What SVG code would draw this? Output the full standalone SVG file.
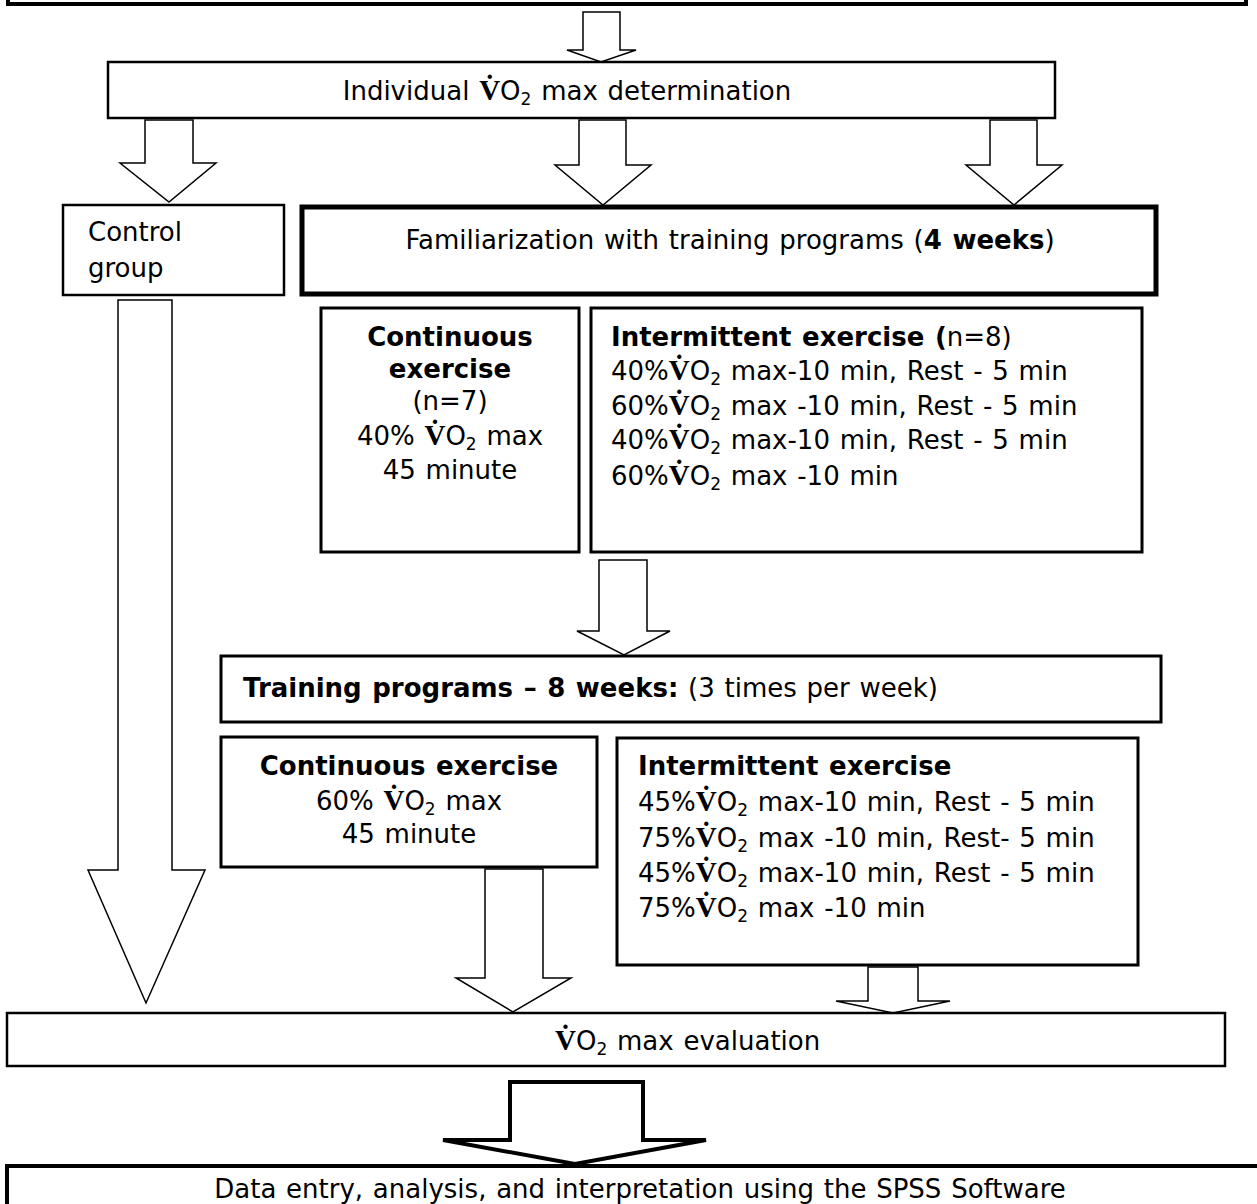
<svg xmlns="http://www.w3.org/2000/svg" width="1257" height="1204" viewBox="0 0 1257 1204">
<defs>
<style>
.box{fill:#fff;stroke:#000;stroke-width:2.5}
.thick{stroke-width:5}
.mid{stroke-width:3}
.arr{fill:#fff;stroke:#000;stroke-width:1.5;stroke-linejoin:miter}
text{font-family:"DejaVu Sans","Verdana",sans-serif;font-size:26px;fill:#000;word-spacing:1.5px}
.b{font-weight:bold}
.v{font-family:"Liberation Serif","DejaVu Serif",serif;font-weight:bold;font-size:29px}
.s{font-size:17px}
.c{text-anchor:middle}
</style>
</defs>
<rect width="1257" height="1204" fill="#fff"/>
<g id="connectors">
<polygon class="arr" points="583,12 620,12 620,50 636,50 601,62 567,50 583,50"/>
<polygon class="arr" points="145,120 193,120 193,163 216,163 169,202 120,163 145,163"/>
<polygon class="arr" points="579,120 626,120 626,165 651,165 603,205 555,165 579,165"/>
<polygon class="arr" points="990,120 1037,120 1037,165 1062,165 1014,205 966,165 990,165"/>
<polygon class="arr" points="118,300 172,300 172,870 205,870 146,1003 88,870 118,870"/>
<polygon class="arr" points="599,560 647,560 647,631 670,631 624,655 577,631 599,631"/>
<polygon class="arr" points="485,869 543,869 543,978 571,978 513,1012 456,978 485,978"/>
<polygon class="arr" points="868,967 918,967 918,1001 950,1001 893,1013 836,1001 868,1001"/>
<polygon class="arr" style="stroke-width:4" points="510,1082 643,1082 643,1140 706,1140 575,1164 443,1140 510,1140"/>
</g>
<g id="top">
<rect class="box" style="stroke-width:4" x="8" y="-20" width="1238" height="24"/>
</g>
<g id="individual">
<rect class="box" x="108" y="62" width="947" height="56"/>
<text class="c" x="567" y="100">Individual <tspan class="v">V̇</tspan>O<tspan class="s" baseline-shift="-5">2</tspan> max determination</text>
</g>
<g id="control">
<rect class="box" x="63" y="205" width="221" height="90"/>
<text x="88" y="241">Control</text>
<text x="88" y="277">group</text>
</g>
<g id="familiarization">
<rect class="box thick" x="302" y="207" width="854" height="87"/>
<text class="c" x="730" y="249">Familiarization with training programs (<tspan class="b">4 weeks</tspan>)</text>
</g>
<g id="continuous1">
<rect class="box mid" x="321" y="308" width="258" height="244"/>
<text class="c b" x="450" y="346">Continuous</text>
<text class="c b" x="450" y="378">exercise</text>
<text class="c" x="450" y="410">(n=7)</text>
<text class="c" x="450" y="445">40% <tspan class="v">V̇</tspan>O<tspan class="s" baseline-shift="-5">2</tspan> max</text>
<text class="c" x="450" y="479">45 minute</text>
</g>
<g id="intermittent1">
<rect class="box mid" x="591" y="308" width="551" height="244"/>
<text x="611" y="346"><tspan class="b">Intermittent exercise (</tspan>n=8)</text>
<text x="611" y="380">40%<tspan class="v">V̇</tspan>O<tspan class="s" baseline-shift="-5">2</tspan> max-10 min, Rest - 5 min</text>
<text x="611" y="415">60%<tspan class="v">V̇</tspan>O<tspan class="s" baseline-shift="-5">2</tspan> max -10 min, Rest - 5 min</text>
<text x="611" y="449">40%<tspan class="v">V̇</tspan>O<tspan class="s" baseline-shift="-5">2</tspan> max-10 min, Rest - 5 min</text>
<text x="611" y="485">60%<tspan class="v">V̇</tspan>O<tspan class="s" baseline-shift="-5">2</tspan> max -10 min</text>
</g>
<g id="training">
<rect class="box mid" x="221" y="656" width="940" height="66"/>
<text x="243" y="697"><tspan class="b">Training programs – 8 weeks:</tspan>  (3 times per week)</text>
</g>
<g id="continuous2">
<rect class="box mid" x="221" y="737" width="376" height="130"/>
<text class="c b" x="409" y="775">Continuous exercise</text>
<text class="c" x="409" y="810">60% <tspan class="v">V̇</tspan>O<tspan class="s" baseline-shift="-5">2</tspan> max</text>
<text class="c" x="409" y="843">45 minute</text>
</g>
<g id="intermittent2">
<rect class="box mid" x="617" y="738" width="521" height="227"/>
<text class="b" x="638" y="775">Intermittent exercise</text>
<text x="638" y="811">45%<tspan class="v">V̇</tspan>O<tspan class="s" baseline-shift="-5">2</tspan> max-10 min, Rest - 5 min</text>
<text x="638" y="847">75%<tspan class="v">V̇</tspan>O<tspan class="s" baseline-shift="-5">2</tspan> max -10 min, Rest- 5 min</text>
<text x="638" y="882">45%<tspan class="v">V̇</tspan>O<tspan class="s" baseline-shift="-5">2</tspan> max-10 min, Rest - 5 min</text>
<text x="638" y="917">75%<tspan class="v">V̇</tspan>O<tspan class="s" baseline-shift="-5">2</tspan> max -10 min</text>
</g>
<g id="evaluation">
<rect class="box" x="7" y="1013" width="1218" height="53"/>
<text x="555" y="1050"><tspan class="v">V̇</tspan>O<tspan class="s" baseline-shift="-5">2</tspan> max evaluation</text>
</g>
<g id="data">
<rect class="box" style="stroke-width:4" x="7" y="1166" width="1270" height="60"/>
<text class="c" x="640" y="1198">Data entry, analysis, and interpretation using the SPSS Software</text>
</g>
</svg>
